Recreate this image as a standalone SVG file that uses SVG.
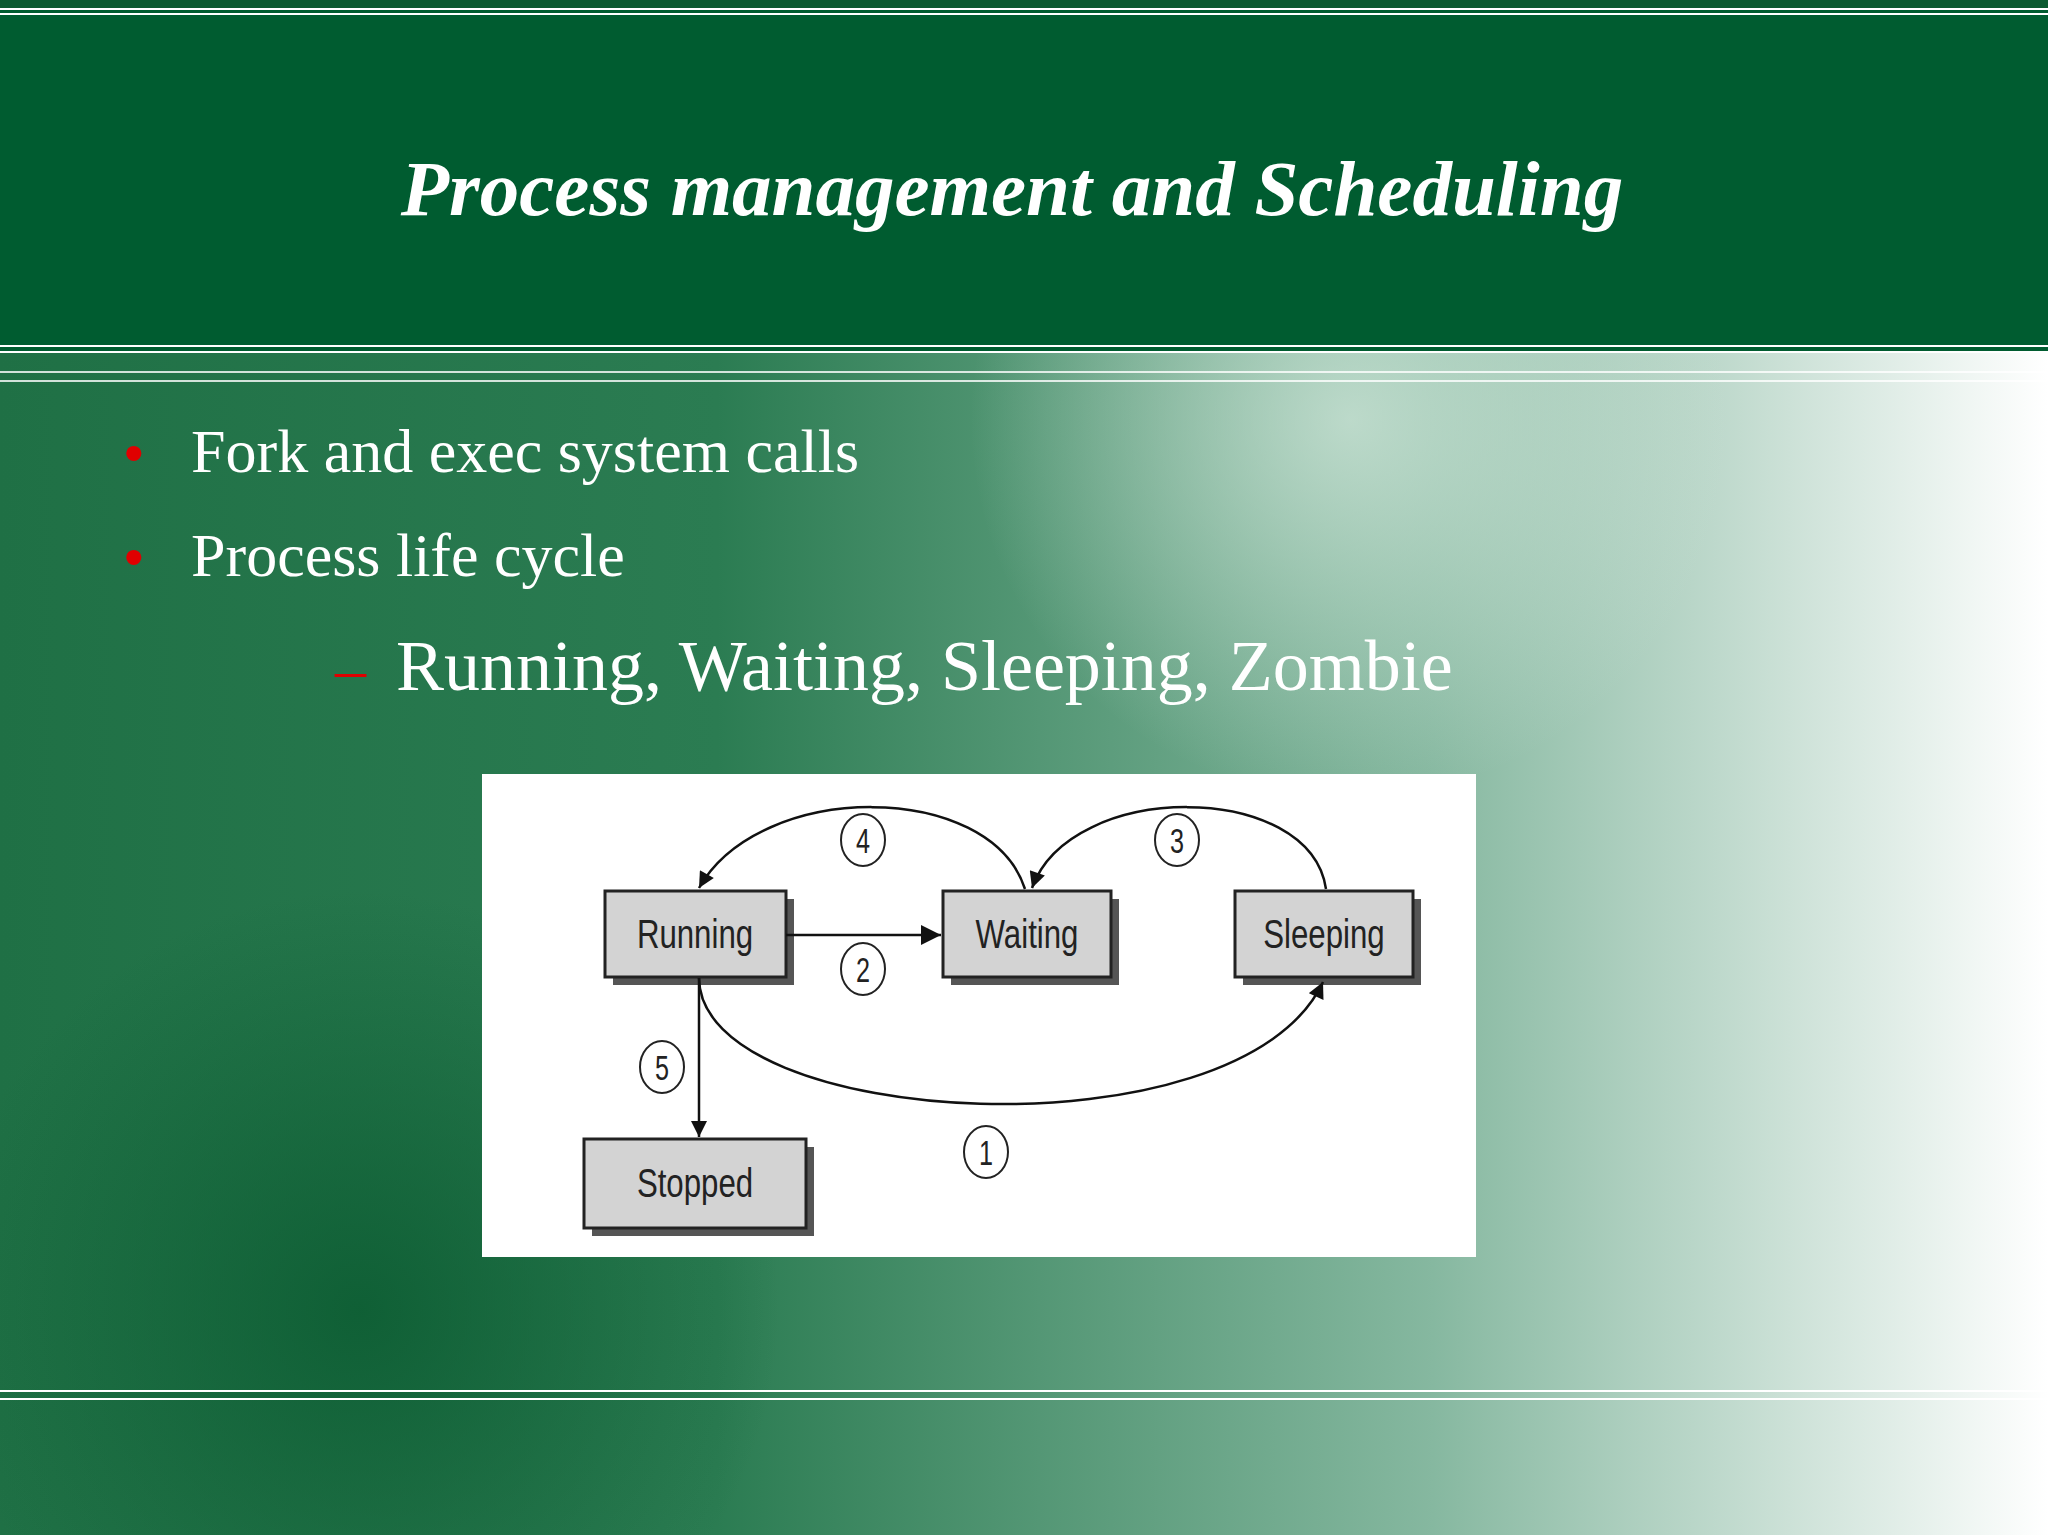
<svg xmlns="http://www.w3.org/2000/svg" width="2048" height="1535" viewBox="0 0 2048 1535">
<defs>
<linearGradient id="bg" x1="0" y1="0" x2="1" y2="0">
<stop offset="0" stop-color="#1f7045"/>
<stop offset="0.35" stop-color="#2b7c52"/>
<stop offset="0.7" stop-color="#86b8a0"/>
<stop offset="1" stop-color="#ffffff"/>
</linearGradient>
<radialGradient id="dk" cx="360" cy="1310" r="420" gradientUnits="userSpaceOnUse">
<stop offset="0" stop-color="#0a5a30" stop-opacity="0.8"/>
<stop offset="1" stop-color="#0a5a30" stop-opacity="0"/>
</radialGradient>
<radialGradient id="lt" cx="1350" cy="420" r="380" gradientUnits="userSpaceOnUse">
<stop offset="0" stop-color="#d8ebe0" stop-opacity="0.7"/>
<stop offset="1" stop-color="#d8ebe0" stop-opacity="0"/>
</radialGradient>
<marker id="ah" viewBox="0 0 10 10" refX="10" refY="5" markerWidth="18" markerHeight="16" markerUnits="userSpaceOnUse" orient="auto">
<path d="M0,0 L10,5 L0,10 Z" fill="#111"/>
</marker>
<marker id="ahb" viewBox="0 0 10 10" refX="10" refY="5" markerWidth="22" markerHeight="20" markerUnits="userSpaceOnUse" orient="auto">
<path d="M0,0 L10,5 L0,10 Z" fill="#111"/>
</marker>
</defs>
<style>
.box{fill:#d3d3d3;stroke:#222;stroke-width:3}
.sh{fill:#555}
.bl{font-family:"Liberation Sans",Arial,sans-serif;font-size:40px;fill:#222;text-anchor:middle}
.num{font-family:"Liberation Sans",Arial,sans-serif;font-size:36px;fill:#222;text-anchor:middle}
.ci{fill:none;stroke:#222;stroke-width:2}
.cn{fill:none;stroke:#111;stroke-width:2.5}
.tx{font-family:"Liberation Serif","Times New Roman",serif;fill:#fff}
.ln{stroke:#fff;stroke-width:2}
</style>
<rect width="2048" height="1535" fill="url(#bg)"/>
<rect width="2048" height="1535" fill="url(#dk)"/>
<rect width="2048" height="1535" fill="url(#lt)"/>
<rect width="2048" height="352" fill="#005c30"/>
<rect width="2048" height="8" fill="#0b5a30"/>
<line class="ln" x1="0" y1="9" x2="2048" y2="9"/>
<line class="ln" x1="0" y1="14" x2="2048" y2="14"/>
<line class="ln" x1="0" y1="346" x2="2048" y2="346"/>
<line class="ln" x1="0" y1="352" x2="2048" y2="352"/>
<line class="ln" x1="0" y1="372" x2="2048" y2="372" stroke-opacity="0.8"/>
<line class="ln" x1="0" y1="381" x2="2048" y2="381" stroke-opacity="0.8"/>
<line class="ln" x1="0" y1="1391" x2="2048" y2="1391"/>
<line class="ln" x1="0" y1="1399" x2="2048" y2="1399"/>
<text class="tx" x="1012" y="215" font-size="79" font-weight="bold" font-style="italic" text-anchor="middle">Process management and Scheduling</text>
<text x="124" y="472" font-family="Liberation Sans,sans-serif" font-size="56" fill="#e00000">•</text>
<text class="tx" x="191" y="472" font-size="62">Fork and exec system calls</text>
<text x="124" y="576" font-family="Liberation Sans,sans-serif" font-size="56" fill="#e00000">•</text>
<text class="tx" x="191" y="576" font-size="62">Process life cycle</text>
<text x="335" y="690" font-family="Liberation Serif,serif" font-size="62" fill="#e00000">–</text>
<text class="tx" x="396" y="690" font-size="72">Running, Waiting, Sleeping, Zombie</text>
<rect x="482" y="774" width="994" height="483" fill="#fff"/>
<g id="running"><rect class="sh" x="613" y="899" width="181" height="86"/><rect class="box" x="605" y="891" width="181" height="86"/><text class="bl" x="695" y="948" transform="translate(695 0) scale(0.78 1) translate(-695 0)">Running</text></g>
<g id="waiting"><rect class="sh" x="951" y="899" width="168" height="86"/><rect class="box" x="943" y="891" width="168" height="86"/><text class="bl" x="1027" y="948" transform="translate(1027 0) scale(0.78 1) translate(-1027 0)">Waiting</text></g>
<g id="sleeping"><rect class="sh" x="1243" y="899" width="178" height="86"/><rect class="box" x="1235" y="891" width="178" height="86"/><text class="bl" x="1324" y="948" transform="translate(1324 0) scale(0.78 1) translate(-1324 0)">Sleeping</text></g>
<g id="stopped"><rect class="sh" x="592" y="1147" width="222" height="89"/><rect class="box" x="584" y="1139" width="222" height="89"/><text class="bl" x="695" y="1197" transform="translate(695 0) scale(0.78 1) translate(-695 0)">Stopped</text></g>
<g id="connectors">
<path class="cn" d="M786,935 L941,935" marker-end="url(#ahb)"/>
<path class="cn" d="M1025,889 C990,780 760,780 699,888" marker-end="url(#ah)"/>
<path class="cn" d="M1326,889 C1310,780 1070,780 1032,888" marker-end="url(#ah)"/>
<path class="cn" d="M699,978 C700,1130 1240,1160 1323,982" marker-end="url(#ah)"/>
<path class="cn" d="M699,978 L699,1137" marker-end="url(#ah)"/>
</g>
<g id="labels">
<ellipse class="ci" cx="863" cy="840" rx="22" ry="26"/><text class="num" x="863" y="853" transform="translate(863 0) scale(0.7 1) translate(-863 0)">4</text>
<ellipse class="ci" cx="1177" cy="840" rx="22" ry="26"/><text class="num" x="1177" y="853" transform="translate(1177 0) scale(0.7 1) translate(-1177 0)">3</text>
<ellipse class="ci" cx="863" cy="969" rx="22" ry="26"/><text class="num" x="863" y="982" transform="translate(863 0) scale(0.7 1) translate(-863 0)">2</text>
<ellipse class="ci" cx="662" cy="1067" rx="22" ry="26"/><text class="num" x="662" y="1080" transform="translate(662 0) scale(0.7 1) translate(-662 0)">5</text>
<ellipse class="ci" cx="986" cy="1152" rx="22" ry="26"/><text class="num" x="986" y="1165" transform="translate(986 0) scale(0.7 1) translate(-986 0)">1</text>
</g>
</svg>
